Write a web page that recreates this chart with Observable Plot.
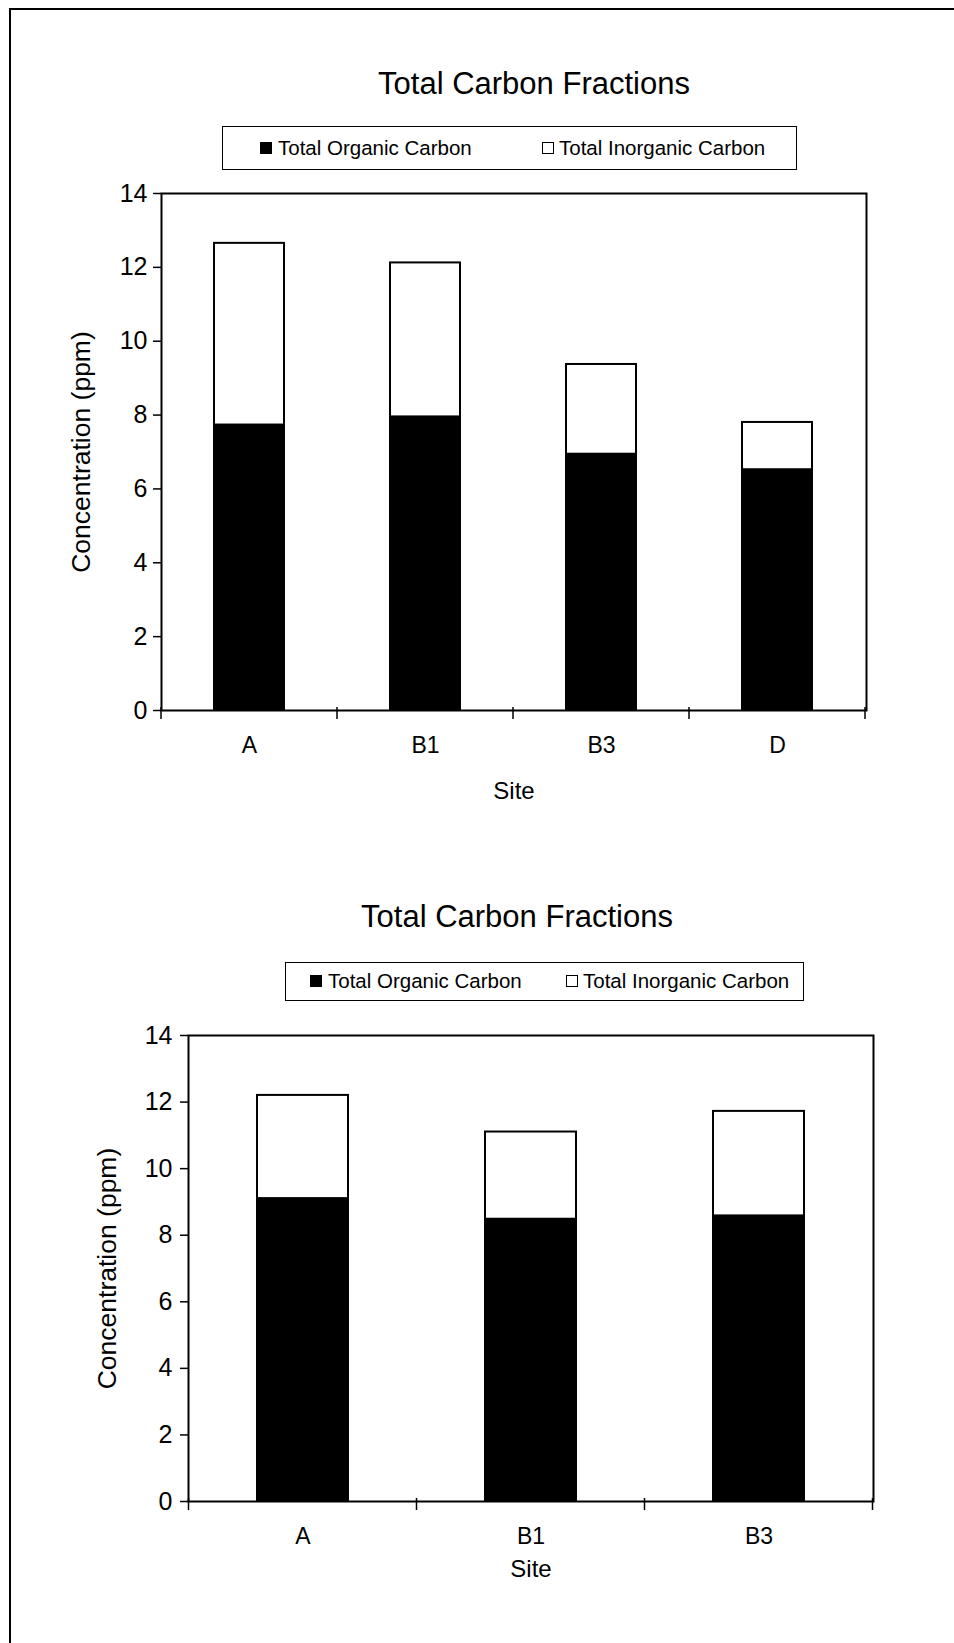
<!DOCTYPE html>
<html>
<head>
<meta charset="utf-8">
<script src="https://cdn.jsdelivr.net/npm/d3@7"></script>
<script src="https://cdn.jsdelivr.net/npm/@observablehq/plot@0.6"></script>
<style>
  html, body { margin: 0; padding: 0; background: #fff; }
  #page { position: relative; width: 954px; height: 1643px; overflow: hidden; font-family: "Liberation Sans", Arial, sans-serif; color: #000; }
  .frame { position: absolute; left: 9px; top: 8px; width: 960px; height: 1660px; border-left: 2.5px solid #000; border-top: 2.5px solid #000; }
  .title { position: absolute; transform: translateX(-50%); white-space: nowrap; font-size: 31px; line-height: 36px; }
  .legend { position: absolute; border: 1.5px solid #000; box-sizing: border-box; background: #fff; }
  .sw { position: absolute; width: 12px; height: 12px; box-sizing: border-box; border: 1.5px solid #000; }
  .lt { position: absolute; white-space: nowrap; font-size: 20.5px; line-height: 22px; }
  .chart { position: absolute; left: 0; }
</style>
</head>
<body>
<div id="page">
  <div class="frame"></div>
</div>
<script>
// ---- data ----
const seriesNames = ["Total Organic Carbon", "Total Inorganic Carbon"];
const seriesColors = ["black", "white"];
const chartTitle = "Total Carbon Fractions";
const yTicks = [0, 2, 4, 6, 8, 10, 12, 14];

const sites1 = ["A", "B1", "B3", "D"];
const organic1 = [7.73, 7.95, 6.94, 6.52];
const inorganic1 = [4.92, 4.17, 2.43, 1.28];

const sites2 = ["A", "B1", "B3"];
const organic2 = [9.1, 8.48, 8.58];
const inorganic2 = [3.1, 2.62, 3.14];

const FONT = '"Liberation Sans", Arial, sans-serif';
const page = document.getElementById("page");

function rows(sites, org, inorg) {
  const out = [];
  sites.forEach((s, i) => {
    out.push({site: s, series: seriesNames[0], value: org[i]});
    out.push({site: s, series: seriesNames[1], value: inorg[i]});
  });
  return out;
}

function boundaryTicks(sites) {
  return (index, scales, values, dims) => {
    const x = scales.x;
    const n = sites.length;
    const left = dims.marginLeft, right = dims.width - dims.marginRight;
    let xs;
    if (x && typeof x.step === "function" && typeof x.bandwidth === "function") {
      const st = x.step(), bw = x.bandwidth();
      xs = sites.map(d => x(d) - (st - bw) / 2);
      xs.push(x(sites[n - 1]) + bw + (st - bw) / 2);
    } else {
      const st = (right - left) / n;
      xs = d3.range(n + 1).map(i => left + i * st);
    }
    const y0 = (scales.y && typeof scales.y === "function") ? scales.y(0) : dims.height - dims.marginBottom;
    const g = d3.create("svg:g");
    g.selectAll("line").data(xs).join("line")
      .attr("x1", d => d).attr("x2", d => d)
      .attr("y1", y0 - 3).attr("y2", y0 + 9)
      .attr("stroke", "black").attr("stroke-width", 1.5);
    return g.node();
  };
}

function addChart(cfg) {
  const data = rows(cfg.sites, cfg.organic, cfg.inorganic);
  const svg = Plot.plot({
    width: 954,
    height: cfg.height,
    marginLeft: cfg.ml, marginRight: cfg.mr, marginTop: cfg.mt, marginBottom: cfg.mb,
    style: {fontFamily: FONT, fontSize: "23px", background: "none", color: "black", overflow: "visible"},
    x: {domain: cfg.sites, paddingInner: 0.6, paddingOuter: 0.3, label: null},
    y: {domain: [0, 14], label: null},
    color: {domain: seriesNames, range: seriesColors},
    marks: [
      Plot.barY(data, {x: "site", y: "value", fill: "series", stroke: "black", strokeWidth: 2}),
      Plot.frame({stroke: "black", strokeWidth: 2}),
      Plot.axisY({ticks: yTicks, tickSize: 8, tickPadding: cfg.yPad, fontSize: 25, tickFormat: d => String(d), stroke: "black", strokeWidth: 1.5}),
      Plot.axisX({tickSize: 0, tickPadding: cfg.xPad, fontSize: 23}),
      boundaryTicks(cfg.sites),
      Plot.text(["Concentration (ppm)"], {frameAnchor: "left", textAnchor: "middle", rotate: -90, dx: -cfg.yLabelOff, fontSize: 26.5, text: d => d}),
      Plot.text(["Site"], {frameAnchor: "bottom", dy: cfg.siteOff, fontSize: 24, text: d => d})
    ]
  });
  svg.classList.add("chart");
  svg.style.top = cfg.top + "px";
  page.appendChild(svg);

  const t = document.createElement("div");
  t.className = "title";
  t.textContent = chartTitle;
  t.style.left = cfg.titleX + "px";
  t.style.top = (cfg.titleY - 18) + "px";
  page.appendChild(t);

  const lg = document.createElement("div");
  lg.className = "legend";
  lg.style.left = cfg.lg.x + "px";
  lg.style.top = cfg.lg.y + "px";
  lg.style.width = cfg.lg.w + "px";
  lg.style.height = cfg.lg.h + "px";
  page.appendChild(lg);
  seriesNames.forEach((name, i) => {
    const sw = document.createElement("div");
    sw.className = "sw";
    sw.style.background = seriesColors[i];
    sw.style.left = cfg.lg.sw[i] + "px";
    sw.style.top = (cfg.lg.cy - 6) + "px";
    page.appendChild(sw);
    const tx = document.createElement("div");
    tx.className = "lt";
    tx.textContent = name;
    tx.style.left = cfg.lg.tx[i] + "px";
    tx.style.top = (cfg.lg.cy - 11) + "px";
    page.appendChild(tx);
  });
}

addChart({
  sites: sites1, organic: organic1, inorganic: inorganic1,
  top: 180, height: 640, ml: 161, mr: 88, mt: 13, mb: 110,
  yPad: 6, xPad: 26, yLabelOff: 80, siteOff: 88,
  titleX: 534, titleY: 84,
  lg: {x: 222, y: 126, w: 575, h: 44, cy: 148, sw: [260, 542], tx: [278, 559]}
});

addChart({
  sites: sites2, organic: organic2, inorganic: inorganic2,
  top: 1020, height: 581, ml: 188, mr: 81, mt: 15, mb: 100,
  yPad: 8, xPad: 26, yLabelOff: 81, siteOff: 75,
  titleX: 517, titleY: 917,
  lg: {x: 285, y: 962, w: 519, h: 39, cy: 981, sw: [310, 566], tx: [328, 583]}
});
</script>
</body>
</html>
